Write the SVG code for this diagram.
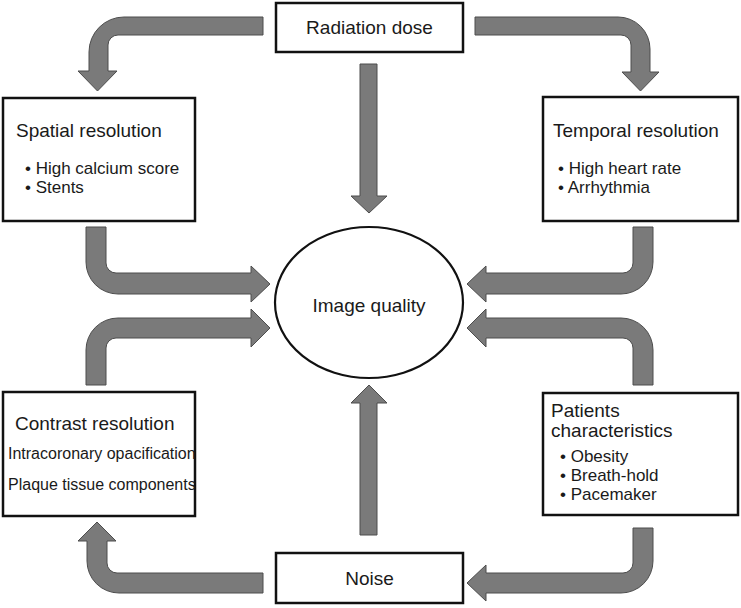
<svg xmlns="http://www.w3.org/2000/svg" width="741" height="608" viewBox="0 0 741 608">
<style>
.box{fill:#fff;stroke:#111;stroke-width:2.5}
.arr{fill:#7a7a7a;stroke:#4d4d4d;stroke-width:1}
text{font-family:"Liberation Sans",Arial,sans-serif;fill:#1a1a1a}
.t{font-size:19px}
.b{font-size:17px}
.s{font-size:16px}
</style>
<rect width="741" height="608" fill="#fff"/>
<g id="connectors">
<path class="arr" d="M263,17 L124,17 A35,35 0 0 0 89,52 L89,71 L78,71 L97.5,91 L117,71 L108,71 L108,45 A10,10 0 0 1 118,35 L263,35 Z"/>
<path class="arr" d="M475,17 L618,17 A32,32 0 0 1 650,49 L650,72 L659,72 L640.5,91 L622,72 L631,72 L631,45 A10,10 0 0 0 621,35 L475,35 Z"/>
<path class="arr" d="M86,227 L106,227 L106,263 A10,10 0 0 0 116,273 L251,273 L251,266 L270,284 L251,302 L251,294 L118,294 A32,32 0 0 1 86,262 Z"/>
<path class="arr" d="M86,385 L86,350 A32,32 0 0 1 118,318 L251,318 L251,309 L270,328 L251,347 L251,338 L116,338 A10,10 0 0 0 106,348 L106,385 Z"/>
<path class="arr" d="M653,227 L633,227 L633,263 A10,10 0 0 1 623,273 L486,273 L486,266 L467,284 L486,302 L486,294 L621,294 A32,32 0 0 0 653,262 Z"/>
<path class="arr" d="M653,385 L653,350 A32,32 0 0 0 621,318 L486,318 L486,309 L467,328 L486,347 L486,338 L623,338 A10,10 0 0 1 633,348 L633,385 Z"/>
<path class="arr" d="M653,528 L633,528 L633,563 A10,10 0 0 1 623,573 L486,573 L486,565 L467,583 L486,601 L486,593 L621,593 A32,32 0 0 0 653,561 Z"/>
<path class="arr" d="M263,573 L117,573 A10,10 0 0 1 107,563 L107,541 L116,541 L97,522 L78,541 L87,541 L87,561 A32,32 0 0 0 119,593 L263,593 Z"/>
<path class="arr" d="M360,64 L377,64 L377,196 L387,196 L369,213 L351,196 L360,196 Z"/>
<path class="arr" d="M360,535 L377,535 L377,403 L387,403 L369,385 L351,403 L360,403 Z"/>
</g>
<g id="radiation">
<rect class="box" x="276" y="3" width="187" height="49"/>
<text class="t" x="369.5" y="34" text-anchor="middle">Radiation dose</text>
</g>
<g id="spatial">
<rect class="box" x="3" y="98" width="192" height="123"/>
<text class="t" x="16" y="137">Spatial resolution</text>
<text class="b" x="25" y="174">• High calcium score</text>
<text class="b" x="25" y="193">• Stents</text>
</g>
<g id="temporal">
<rect class="box" x="543" y="97" width="195" height="124"/>
<text class="t" x="553" y="137">Temporal resolution</text>
<text class="b" x="558" y="174">• High heart rate</text>
<text class="b" x="558" y="193">• Arrhythmia</text>
</g>
<g id="image-quality">
<ellipse cx="369" cy="302.5" rx="94" ry="75.5" fill="#fff" stroke="#111" stroke-width="2.2"/>
<text class="t" x="369" y="312" text-anchor="middle">Image quality</text>
</g>
<g id="contrast">
<rect class="box" x="3" y="392" width="192" height="124"/>
<text class="t" x="15" y="430">Contrast resolution</text>
<text class="s" x="8" y="459">Intracoronary opacification</text>
<text class="s" x="8" y="490">Plaque tissue components</text>
</g>
<g id="patients">
<rect class="box" x="543" y="393" width="195" height="122"/>
<text class="t" x="551" y="417">Patients</text>
<text class="t" x="551" y="437">characteristics</text>
<text class="b" x="560" y="462">• Obesity</text>
<text class="b" x="560" y="481">• Breath-hold</text>
<text class="b" x="560" y="500">• Pacemaker</text>
</g>
<g id="noise">
<rect class="box" x="276" y="553" width="187" height="50"/>
<text class="t" x="369.5" y="585" text-anchor="middle">Noise</text>
</g>
</svg>
